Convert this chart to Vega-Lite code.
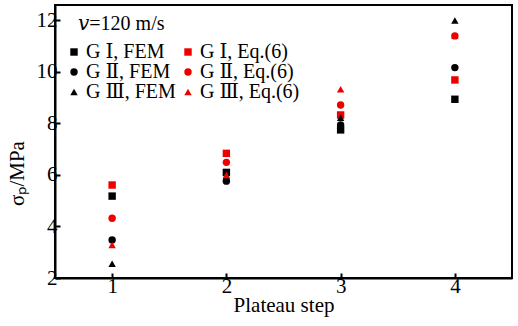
{
  "$schema": "https://vega.github.io/schema/vega-lite/v6.json",
  "width": 457,
  "height": 273,
  "autosize": {"type": "none"},
  "padding": {"left": 55, "top": 5, "right": 6, "bottom": 48},
  "background": "white",
  "config": {
    "font": "'Liberation Serif', 'DejaVu Serif'",
    "view": {"stroke": "black", "strokeWidth": 2},
    "axis": {"grid": false, "domainColor": "black", "domainWidth": 2, "tickColor": "black", "tickWidth": 2, "tickSize": -5, "labelColor": "black", "titleColor": "black", "labelFont": "Liberation Serif", "titleFont": "Liberation Serif", "labelFontSize": 21, "titleFontSize": 21, "titleFontWeight": "normal"}
  },
  "data": {
    "values": [
      {"step": 1, "series": "G Ⅰ, FEM", "value": 5.18},
      {"step": 2, "series": "G Ⅰ, FEM", "value": 6.1},
      {"step": 3, "series": "G Ⅰ, FEM", "value": 7.75},
      {"step": 4, "series": "G Ⅰ, FEM", "value": 8.94},
      {"step": 1, "series": "G Ⅰ, Eq.(6)", "value": 5.61},
      {"step": 2, "series": "G Ⅰ, Eq.(6)", "value": 6.84},
      {"step": 3, "series": "G Ⅰ, Eq.(6)", "value": 8.33},
      {"step": 4, "series": "G Ⅰ, Eq.(6)", "value": 9.69},
      {"step": 1, "series": "G Ⅱ, FEM", "value": 3.48},
      {"step": 2, "series": "G Ⅱ, FEM", "value": 5.76},
      {"step": 3, "series": "G Ⅱ, FEM", "value": 7.94},
      {"step": 4, "series": "G Ⅱ, FEM", "value": 10.17},
      {"step": 1, "series": "G Ⅱ, Eq.(6)", "value": 4.32},
      {"step": 2, "series": "G Ⅱ, Eq.(6)", "value": 6.49},
      {"step": 3, "series": "G Ⅱ, Eq.(6)", "value": 8.72},
      {"step": 4, "series": "G Ⅱ, Eq.(6)", "value": 11.4},
      {"step": 1, "series": "G Ⅲ, FEM", "value": 2.55},
      {"step": 2, "series": "G Ⅲ, FEM", "value": 5.95},
      {"step": 3, "series": "G Ⅲ, FEM", "value": 8.22},
      {"step": 4, "series": "G Ⅲ, FEM", "value": 12.0},
      {"step": 1, "series": "G Ⅲ, Eq.(6)", "value": 3.28},
      {"step": 2, "series": "G Ⅲ, Eq.(6)", "value": 6.0},
      {"step": 3, "series": "G Ⅲ, Eq.(6)", "value": 9.33},
      {"step": 4, "series": "G Ⅲ, Eq.(6)", "value": 11.4}
    ]
  },
  "mark": {"type": "point", "filled": true, "opacity": 1, "size": 55},
  "encoding": {
    "x": {"field": "step", "type": "quantitative", "scale": {"domain": [0.5, 4.5], "nice": false, "zero": false}, "axis": {"values": [1, 2, 3, 4], "title": "Plateau step", "labelPadding": 2, "titlePadding": -2}},
    "y": {"field": "value", "type": "quantitative", "scale": {"domain": [2, 12.6], "nice": false, "zero": false}, "axis": {"values": [2, 4, 6, 8, 10, 12], "title": "σₚ/MPa", "labelPadding": 3, "titleX": -38, "titleY": 168, "titleAngle": -90, "titleBaseline": "middle"}},
    "color": {"field": "series", "type": "nominal", "sort": null, "scale": {"domain": ["G Ⅰ, FEM", "G Ⅱ, FEM", "G Ⅲ, FEM", "G Ⅰ, Eq.(6)", "G Ⅱ, Eq.(6)", "G Ⅲ, Eq.(6)"], "range": ["black", "black", "black", "#ee0000", "#ee0000", "#ee0000"]}, "legend": {"title": "\u200b\u2002\u2009𝑣=120 m/s", "orient": "none", "legendX": 9, "legendY": 9, "columns": 2, "columnPadding": 2, "rowPadding": 0, "labelFontSize": 20, "labelFont": "'Liberation Serif', 'DejaVu Serif'", "titleFont": "'Liberation Serif', 'DejaVu Serif'", "titleFontSize": 20, "titleFontWeight": "normal", "titleColor": "black", "titlePadding": 8, "symbolSize": 55, "symbolOffset": 0, "labelOffset": 2, "labelColor": "black"}},
    "shape": {"field": "series", "type": "nominal", "sort": null, "scale": {"domain": ["G Ⅰ, FEM", "G Ⅱ, FEM", "G Ⅲ, FEM", "G Ⅰ, Eq.(6)", "G Ⅱ, Eq.(6)", "G Ⅲ, Eq.(6)"], "range": ["square", "circle", "triangle-up", "square", "circle", "triangle-up"]}}
  }
}
